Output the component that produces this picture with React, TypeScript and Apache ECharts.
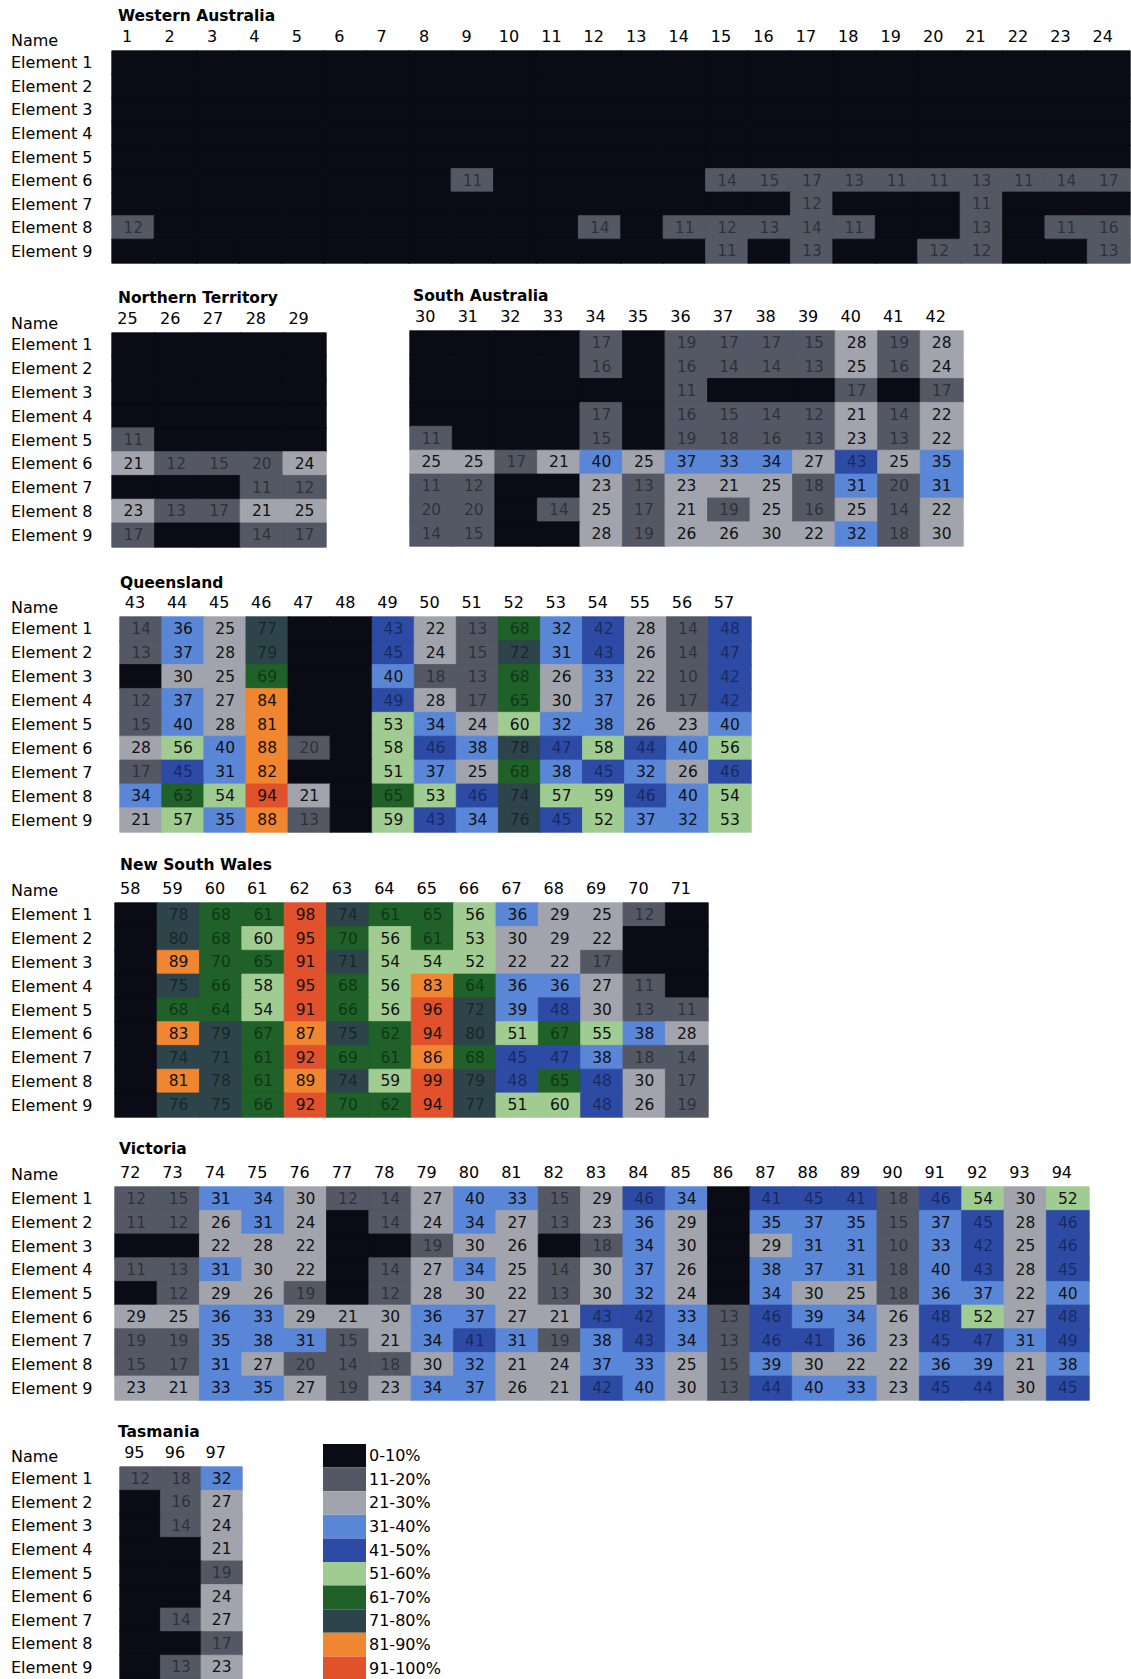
import React, { useEffect, useRef } from 'react';
import * as echarts from 'echarts';

const FONT = '"DejaVu Sans", "Liberation Sans", Arial, sans-serif';

const elements = ['Element 1', 'Element 2', 'Element 3', 'Element 4', 'Element 5', 'Element 6', 'Element 7', 'Element 8', 'Element 9'];

// 0 = cell in the 0-10% band, printed without a number
const waCols = ['1', '2', '3', '4', '5', '6', '7', '8', '9', '10', '11', '12', '13', '14', '15', '16', '17', '18', '19', '20', '21', '22', '23', '24'];
const waValues = [
  [0, 0, 0, 0, 0, 0, 0, 0, 0, 0, 0, 0, 0, 0, 0, 0, 0, 0, 0, 0, 0, 0, 0, 0],
  [0, 0, 0, 0, 0, 0, 0, 0, 0, 0, 0, 0, 0, 0, 0, 0, 0, 0, 0, 0, 0, 0, 0, 0],
  [0, 0, 0, 0, 0, 0, 0, 0, 0, 0, 0, 0, 0, 0, 0, 0, 0, 0, 0, 0, 0, 0, 0, 0],
  [0, 0, 0, 0, 0, 0, 0, 0, 0, 0, 0, 0, 0, 0, 0, 0, 0, 0, 0, 0, 0, 0, 0, 0],
  [0, 0, 0, 0, 0, 0, 0, 0, 0, 0, 0, 0, 0, 0, 0, 0, 0, 0, 0, 0, 0, 0, 0, 0],
  [0, 0, 0, 0, 0, 0, 0, 0, 11, 0, 0, 0, 0, 0, 14, 15, 17, 13, 11, 11, 13, 11, 14, 17],
  [0, 0, 0, 0, 0, 0, 0, 0, 0, 0, 0, 0, 0, 0, 0, 0, 12, 0, 0, 0, 11, 0, 0, 0],
  [12, 0, 0, 0, 0, 0, 0, 0, 0, 0, 0, 14, 0, 11, 12, 13, 14, 11, 0, 0, 13, 0, 11, 16],
  [0, 0, 0, 0, 0, 0, 0, 0, 0, 0, 0, 0, 0, 0, 11, 0, 13, 0, 0, 12, 12, 0, 0, 13],
];

const ntCols = ['25', '26', '27', '28', '29'];
const ntValues = [
  [0, 0, 0, 0, 0],
  [0, 0, 0, 0, 0],
  [0, 0, 0, 0, 0],
  [0, 0, 0, 0, 0],
  [11, 0, 0, 0, 0],
  [21, 12, 15, 20, 24],
  [0, 0, 0, 11, 12],
  [23, 13, 17, 21, 25],
  [17, 0, 0, 14, 17],
];

const saCols = ['30', '31', '32', '33', '34', '35', '36', '37', '38', '39', '40', '41', '42'];
const saValues = [
  [0, 0, 0, 0, 17, 0, 19, 17, 17, 15, 28, 19, 28],
  [0, 0, 0, 0, 16, 0, 16, 14, 14, 13, 25, 16, 24],
  [0, 0, 0, 0, 0, 0, 11, 0, 0, 0, 17, 0, 17],
  [0, 0, 0, 0, 17, 0, 16, 15, 14, 12, 21, 14, 22],
  [11, 0, 0, 0, 15, 0, 19, 18, 16, 13, 23, 13, 22],
  [25, 25, 17, 21, 40, 25, 37, 33, 34, 27, 43, 25, 35],
  [11, 12, 0, 0, 23, 13, 23, 21, 25, 18, 31, 20, 31],
  [20, 20, 0, 14, 25, 17, 21, 19, 25, 16, 25, 14, 22],
  [14, 15, 0, 0, 28, 19, 26, 26, 30, 22, 32, 18, 30],
];

const qldCols = ['43', '44', '45', '46', '47', '48', '49', '50', '51', '52', '53', '54', '55', '56', '57'];
const qldValues = [
  [14, 36, 25, 77, 0, 0, 43, 22, 13, 68, 32, 42, 28, 14, 48],
  [13, 37, 28, 79, 0, 0, 45, 24, 15, 72, 31, 43, 26, 14, 47],
  [0, 30, 25, 69, 0, 0, 40, 18, 13, 68, 26, 33, 22, 10, 42],
  [12, 37, 27, 84, 0, 0, 49, 28, 17, 65, 30, 37, 26, 17, 42],
  [15, 40, 28, 81, 0, 0, 53, 34, 24, 60, 32, 38, 26, 23, 40],
  [28, 56, 40, 88, 20, 0, 58, 46, 38, 78, 47, 58, 44, 40, 56],
  [17, 45, 31, 82, 0, 0, 51, 37, 25, 68, 38, 45, 32, 26, 46],
  [34, 63, 54, 94, 21, 0, 65, 53, 46, 74, 57, 59, 46, 40, 54],
  [21, 57, 35, 88, 13, 0, 59, 43, 34, 76, 45, 52, 37, 32, 53],
];

const nswCols = ['58', '59', '60', '61', '62', '63', '64', '65', '66', '67', '68', '69', '70', '71'];
const nswValues = [
  [0, 78, 68, 61, 98, 74, 61, 65, 56, 36, 29, 25, 12, 0],
  [0, 80, 68, 60, 95, 70, 56, 61, 53, 30, 29, 22, 0, 0],
  [0, 89, 70, 65, 91, 71, 54, 54, 52, 22, 22, 17, 0, 0],
  [0, 75, 66, 58, 95, 68, 56, 83, 64, 36, 36, 27, 11, 0],
  [0, 68, 64, 54, 91, 66, 56, 96, 72, 39, 48, 30, 13, 11],
  [0, 83, 79, 67, 87, 75, 62, 94, 80, 51, 67, 55, 38, 28],
  [0, 74, 71, 61, 92, 69, 61, 86, 68, 45, 47, 38, 18, 14],
  [0, 81, 78, 61, 89, 74, 59, 99, 79, 48, 65, 48, 30, 17],
  [0, 76, 75, 66, 92, 70, 62, 94, 77, 51, 60, 48, 26, 19],
];

const vicCols = ['72', '73', '74', '75', '76', '77', '78', '79', '80', '81', '82', '83', '84', '85', '86', '87', '88', '89', '90', '91', '92', '93', '94'];
const vicValues = [
  [12, 15, 31, 34, 30, 12, 14, 27, 40, 33, 15, 29, 46, 34, 0, 41, 45, 41, 18, 46, 54, 30, 52],
  [11, 12, 26, 31, 24, 0, 14, 24, 34, 27, 13, 23, 36, 29, 0, 35, 37, 35, 15, 37, 45, 28, 46],
  [0, 0, 22, 28, 22, 0, 0, 19, 30, 26, 0, 18, 34, 30, 0, 29, 31, 31, 10, 33, 42, 25, 46],
  [11, 13, 31, 30, 22, 0, 14, 27, 34, 25, 14, 30, 37, 26, 0, 38, 37, 31, 18, 40, 43, 28, 45],
  [0, 12, 29, 26, 19, 0, 12, 28, 30, 22, 13, 30, 32, 24, 0, 34, 30, 25, 18, 36, 37, 22, 40],
  [29, 25, 36, 33, 29, 21, 30, 36, 37, 27, 21, 43, 42, 33, 13, 46, 39, 34, 26, 48, 52, 27, 48],
  [19, 19, 35, 38, 31, 15, 21, 34, 41, 31, 19, 38, 43, 34, 13, 46, 41, 36, 23, 45, 47, 31, 49],
  [15, 17, 31, 27, 20, 14, 18, 30, 32, 21, 24, 37, 33, 25, 15, 39, 30, 22, 22, 36, 39, 21, 38],
  [23, 21, 33, 35, 27, 19, 23, 34, 37, 26, 21, 42, 40, 30, 13, 44, 40, 33, 23, 45, 44, 30, 45],
];

const tasCols = ['95', '96', '97'];
const tasValues = [
  [12, 18, 32],
  [0, 16, 27],
  [0, 14, 24],
  [0, 0, 21],
  [0, 0, 19],
  [0, 0, 24],
  [0, 14, 27],
  [0, 0, 17],
  [0, 13, 23],
];

const bandLabels = ['0-10%', '11-20%', '21-30%', '31-40%', '41-50%', '51-60%', '61-70%', '71-80%', '81-90%', '91-100%'];
const bandColors = ['#0b0b15', '#535864', '#a1a4ad', '#5a86d8', '#2d4aa5', '#a0cc92', '#1f6128', '#2d444a', '#f0862f', '#e1512b'];

const regionNames = ['Western Australia', 'Northern Territory', 'South Australia', 'Queensland', 'New South Wales', 'Victoria', 'Tasmania'];
const regionCols = [waCols, ntCols, saCols, qldCols, nswCols, vicCols, tasCols];
const regionValues = [waValues, ntValues, saValues, qldValues, nswValues, vicValues, tasValues];

// layout (pixels)
const layout = [
  { left: 112, top: 51, right: 1130, bottom: 263, titleX: 118, titleY: 16, nameY: 40, showRows: true },
  { left: 112, top: 333, right: 326, bottom: 547, titleX: 118, titleY: 298, nameY: 323, showRows: true },
  { left: 410, top: 331, right: 963, bottom: 546, titleX: 413, titleY: 296, nameY: 0, showRows: false },
  { left: 120, top: 617, right: 751, bottom: 832, titleX: 120, titleY: 583, nameY: 607, showRows: true },
  { left: 115, top: 903, right: 708, bottom: 1117, titleX: 120, titleY: 865, nameY: 890, showRows: true },
  { left: 115, top: 1187, right: 1089, bottom: 1400, titleX: 119, titleY: 1149, nameY: 1174, showRows: true },
  { left: 120, top: 1467, right: 242, bottom: 1679, titleX: 118, titleY: 1432, nameY: 1456, showRows: true },
];

function bandIndex(v: number) {
  if (v < 10) return 0;
  if (v <= 20) return 1;
  return Math.min(9, Math.ceil(v / 10) - 1);
}

function isDarkBand(v: number) {
  const b = bandIndex(v);
  return b === 1 || b === 4 || b === 6 || b === 7;
}

export default function App() {
  const ref = useRef<HTMLDivElement>(null);

  useEffect(() => {
    if (!ref.current) return;
    const chart = echarts.init(ref.current, undefined, { renderer: 'svg' });

    const grids: any[] = [];
    const xAxes: any[] = [];
    const yAxes: any[] = [];
    const series: any[] = [];
    const graphics: any[] = [];

    layout.forEach((l, i) => {
      grids.push({ left: l.left, top: l.top, width: l.right - l.left, height: l.bottom - l.top, containLabel: false });
      xAxes.push({
        gridIndex: i,
        type: 'category',
        data: regionCols[i],
        position: 'top',
        axisLine: { show: false },
        axisTick: { show: false },
        splitLine: { show: false },
        axisLabel: { interval: 0, margin: 7, fontSize: 16, color: '#000', fontFamily: FONT, padding: [0, 12, 0, 0] },
      });
      yAxes.push({
        gridIndex: i,
        type: 'category',
        data: elements,
        inverse: true,
        axisLine: { show: false },
        axisTick: { show: false },
        splitLine: { show: false },
        axisLabel: { show: l.showRows, interval: 0, align: 'left', margin: l.left - 11, fontSize: 16, color: '#000', fontFamily: FONT },
      });
      const items: any[] = [];
      regionValues[i].forEach((row, r) => {
        row.forEach((v, c) => {
          items.push({
            value: [c, r, v],
            itemStyle: { borderColor: bandColors[bandIndex(v)], borderWidth: 0.8 },
            label: { show: v > 0, color: isDarkBand(v) ? 'rgba(0,0,0,0.45)' : '#111' },
          });
        });
      });
      series.push({
        type: 'heatmap',
        name: regionNames[i],
        xAxisIndex: i,
        yAxisIndex: i,
        data: items,
        label: { show: true, fontSize: 15.5, fontFamily: FONT },
        emphasis: { disabled: true },
      });
      graphics.push({
        type: 'text',
        x: l.titleX,
        y: l.titleY,
        style: { text: regionNames[i], font: `bold 15.5px ${FONT}`, fill: '#000', verticalAlign: 'middle' },
      });
      if (l.showRows) {
        graphics.push({
          type: 'text',
          x: 11,
          y: l.nameY,
          style: { text: 'Name', font: `16px ${FONT}`, fill: '#000', verticalAlign: 'middle' },
        });
      }
    });

    const pieces = bandLabels.map((lab, k) => {
      if (k === 0) return { gte: 0, lt: 10, label: lab, color: bandColors[k] };
      if (k === 1) return { gte: 10, lte: 20, label: lab, color: bandColors[k] };
      return { gt: k * 10, lte: (k + 1) * 10, label: lab, color: bandColors[k] };
    });

    chart.setOption({
      animation: false,
      backgroundColor: '#ffffff',
      grid: grids,
      xAxis: xAxes,
      yAxis: yAxes,
      series,
      graphic: graphics,
      visualMap: {
        type: 'piecewise',
        seriesIndex: series.map((_, i) => i),
        pieces,
        orient: 'vertical',
        inverse: true,
        left: 323,
        top: 1444,
        padding: 0,
        itemWidth: 43,
        itemHeight: 23.6,
        itemGap: 0,
        itemSymbol: 'rect',
        textGap: 3,
        selectedMode: false,
        hoverLink: false,
        textStyle: { fontSize: 16, color: '#000', fontFamily: FONT },
      },
    });

    return () => chart.dispose();
  }, []);

  return <div ref={ref} style={{ position: 'absolute', left: 0, top: 0, width: 1131, height: 1679 }} />;
}
